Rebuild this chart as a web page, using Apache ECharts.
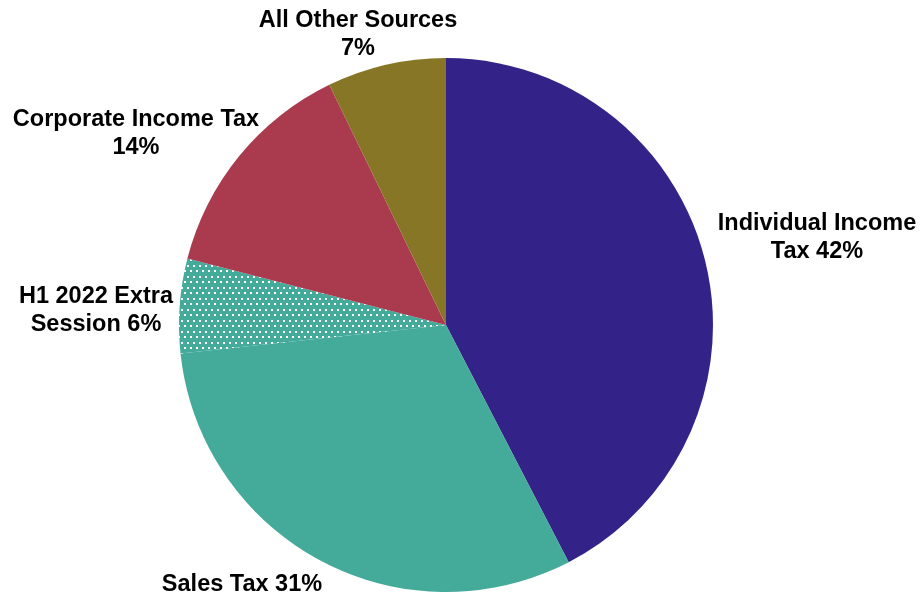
<!DOCTYPE html>
<html><head><meta charset="utf-8">
<script src="https://cdn.jsdelivr.net/npm/echarts@6/dist/echarts.min.js"></script>
<style>html,body{margin:0;padding:0;background:#fff}#c{width:920px;height:596px}</style>
</head><body><div id="c"></div>
<script>
const categories = ["Individual Income\nTax", "Sales Tax", "H1 2022 Extra\nSession", "Corporate Income Tax", "All Other Sources"];
const separators = [" ", " ", " ", "\n", "\n"];
const values = [42.4, 30.9, 5.7, 13.8, 7.2];
const colors = ["#332288", "#44AA99", "#44AA99", "#AA3A4E", "#867625"];

// label anchor (centre of text block) per slice, in pixels
const labelAnchors = [[817, 238], [242, 585], [96, 311], [136, 134], [358, 35]];

function dotPattern(){
  const c = document.createElement('canvas');
  c.width = 6; c.height = 11;
  const g = c.getContext('2d');
  g.fillStyle = '#44AA99'; g.fillRect(0,0,6,11);
  g.fillStyle = '#ffffff';
  g.fillRect(1,1,2,2);
  g.fillRect(4,6,2,2);
  return c;
}

const chart = echarts.init(document.getElementById('c'), null, {renderer:'canvas'});
chart.setOption({
  animation:false,
  series:[{
    type:'pie',
    center:[446,325],
    radius:267,
    startAngle:90,
    clockwise:true,
    percentPrecision:0,
    label:{
      show:true, position:'outside', overflow:'none',
      fontFamily:'Liberation Sans, Arial, sans-serif',
      fontWeight:'bold', fontSize:23.5, color:'#000', lineHeight:28,
      formatter:p=>p.name+separators[p.dataIndex]+p.percent+'%'
    },
    labelLine:{show:false, length:10, length2:0},
    labelLayout:p=>({
      x:labelAnchors[p.dataIndex][0], y:labelAnchors[p.dataIndex][1],
      align:'center', verticalAlign:'middle', width:300
    }),
    itemStyle:{borderWidth:0},
    emphasis:{disabled:true},
    data:categories.map((n,i)=>({
      name:n, value:values[i],
      itemStyle:{color: i===2 ? {image:dotPattern(), repeat:'repeat'} : colors[i]}
    }))
  }]
});
</script></body></html>
